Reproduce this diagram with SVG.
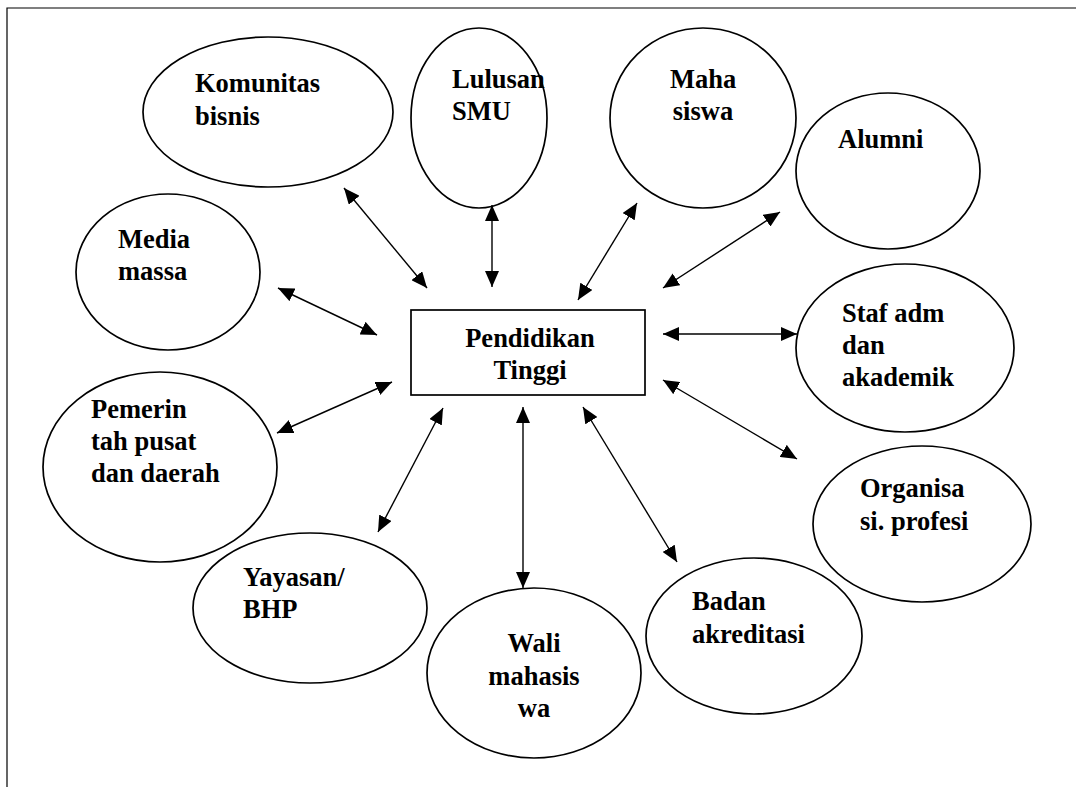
<svg xmlns="http://www.w3.org/2000/svg" width="1076" height="787" viewBox="0 0 1076 787">
<defs>
<marker id="ah" markerUnits="userSpaceOnUse" markerWidth="16" markerHeight="14" refX="16" refY="7" orient="auto-start-reverse" viewBox="0 0 16 14">
<path d="M0,0 L16,7 L0,14 z" fill="#000"/>
</marker>
<style>
.n ellipse, .n rect { fill: #fff; stroke: #000; stroke-width: 1.7; }
.n text { font-family: "Liberation Serif", "Times New Roman", serif; font-weight: bold; font-size: 26.5px; fill: #000; }
.c line { stroke: #000; stroke-width: 1.4; marker-start: url(#ah); marker-end: url(#ah); }
.frame { stroke: #000; stroke-width: 1.2; fill: none; }
</style>
</defs>
<rect width="1076" height="787" fill="#fff"/>
<path class="frame" d="M1076,8 L7,8 L7,787"/>

<g id="komunitas" class="n"><ellipse cx="268" cy="112" rx="125" ry="75"/><text x="195" y="92">Komunitas</text><text x="195" y="125">bisnis</text></g>
<g id="lulusan" class="n"><ellipse cx="479" cy="118" rx="68" ry="90"/><text x="452" y="88">Lulusan</text><text x="452" y="120">SMU</text></g>
<g id="mahasiswa" class="n"><ellipse cx="703" cy="118" rx="93" ry="90"/><text x="703" y="88" text-anchor="middle">Maha</text><text x="703" y="120" text-anchor="middle">siswa</text></g>
<g id="alumni" class="n"><ellipse cx="888" cy="171" rx="92" ry="78"/><text x="838" y="148">Alumni</text></g>
<g id="staf" class="n"><ellipse cx="905" cy="348" rx="109" ry="84"/><text x="842" y="322">Staf adm</text><text x="842" y="354">dan</text><text x="842" y="386">akademik</text></g>
<g id="organisasi" class="n"><ellipse cx="922" cy="524" rx="109" ry="78"/><text x="860" y="497">Organisa</text><text x="860" y="530">si. profesi</text></g>
<g id="badan" class="n"><ellipse cx="754" cy="636" rx="108" ry="78"/><text x="692" y="610">Badan</text><text x="692" y="643">akreditasi</text></g>
<g id="wali" class="n"><ellipse cx="534" cy="673" rx="107" ry="85"/><text x="534" y="652" text-anchor="middle">Wali</text><text x="534" y="685" text-anchor="middle">mahasis</text><text x="534" y="717" text-anchor="middle">wa</text></g>
<g id="yayasan" class="n"><ellipse cx="310" cy="608" rx="117" ry="75"/><text x="243" y="586">Yayasan/</text><text x="243" y="618">BHP</text></g>
<g id="pemerintah" class="n"><ellipse cx="160" cy="467" rx="117" ry="95"/><text x="91" y="418">Pemerin</text><text x="91" y="450">tah pusat</text><text x="91" y="482">dan daerah</text></g>
<g id="media" class="n"><ellipse cx="168" cy="272" rx="92" ry="78"/><text x="118" y="248">Media</text><text x="118" y="280">massa</text></g>
<g id="pt" class="n"><rect x="411" y="310" width="234" height="85"/><text x="530" y="347" text-anchor="middle">Pendidikan</text><text x="530" y="379" text-anchor="middle">Tinggi</text></g>

<g id="connectors" class="c">
<line x1="344" y1="188" x2="427" y2="288"/>
<line x1="492" y1="205" x2="492" y2="287"/>
<line x1="637" y1="203" x2="578" y2="300"/>
<line x1="780" y1="212" x2="663" y2="288"/>
<line x1="663" y1="334" x2="797" y2="334"/>
<line x1="663" y1="380" x2="797" y2="459"/>
<line x1="583" y1="407" x2="677" y2="562"/>
<line x1="523" y1="407" x2="523" y2="588"/>
<line x1="443" y1="408" x2="378" y2="532"/>
<line x1="392" y1="382" x2="277" y2="433"/>
<line x1="278" y1="288" x2="377" y2="335"/>
</g>
</svg>
